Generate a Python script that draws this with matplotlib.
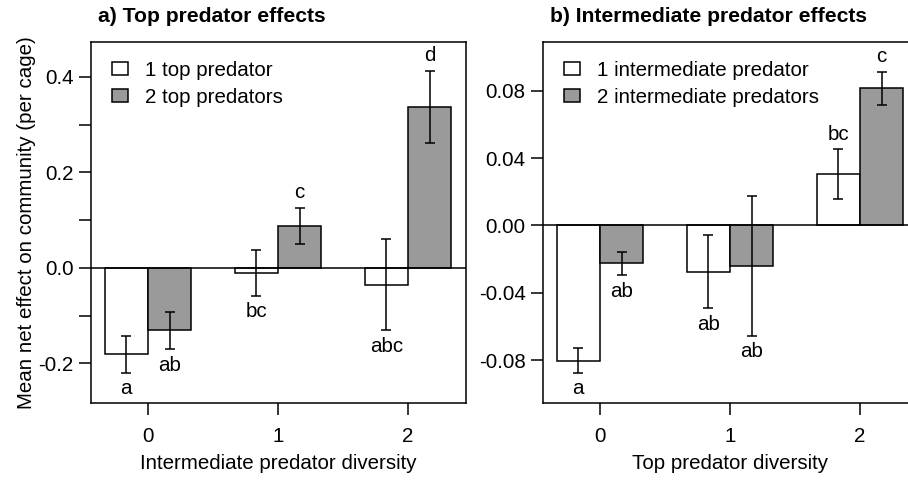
import numpy as np
import matplotlib
matplotlib.use("Agg")
import matplotlib.pyplot as plt

plt.rcParams['font.family'] = ['Liberation Sans', 'DejaVu Sans']

groups = [0, 1, 2]

# a) top predator effects
a_one = [-0.181, -0.011, -0.036]
a_one_lo = [-0.220, -0.058, -0.131]
a_one_hi = [-0.143, 0.038, 0.061]
a_two = [-0.131, 0.088, 0.336]
a_two_lo = [-0.170, 0.051, 0.261]
a_two_hi = [-0.092, 0.125, 0.412]
a_one_let = ["a", "bc", "abc"]
a_two_let = ["ab", "c", "d"]

# b) intermediate predator effects
b_one = [-0.0803, -0.0275, 0.0308]
b_one_lo = [-0.0874, -0.0491, 0.0155]
b_one_hi = [-0.0726, -0.0057, 0.0452]
b_two = [-0.0224, -0.0240, 0.0814]
b_two_lo = [-0.0295, -0.0656, 0.0714]
b_two_hi = [-0.0155, 0.0175, 0.0914]
b_one_let = ["a", "ab", "bc"]
b_two_let = ["ab", "ab", "c"]

a_yticks = [-0.2, -0.1, 0.0, 0.1, 0.2, 0.3, 0.4]
a_ylabels = ["-0.2", "", "0.0", "", "0.2", "", "0.4"]
b_yticks = [-0.08, -0.04, 0.0, 0.04, 0.08]
b_ylabels = ["-0.08", "-0.04", "0.00", "0.04", "0.08"]

W, H = 908, 482
fig = plt.figure(figsize=(W / 100, H / 100), dpi=100)

fs = 14.8
lw = 1.1
gray = "#9a9a9a"
bw = 1 / 3


def panel(left_px, one, one_lo, one_hi, two, two_lo, two_hi, let1, let2,
          yt, yl, ylim, xlabel, title, labels):
    ax = fig.add_axes([left_px / W, (H - 403) / H, 375 / W, 361 / H])
    x = np.array(groups, dtype=float)
    ax.bar(x - bw, one, width=bw, align='edge', color='white', edgecolor='black', linewidth=lw,
           label=labels[0], zorder=2)
    ax.bar(x, two, width=bw, align='edge', color=gray, edgecolor='black', linewidth=lw,
           label=labels[1], zorder=2)
    ax.axhline(0, color='black', linewidth=lw, zorder=3)
    for xs, m, lo, hi, lets in [(x - bw / 2, one, one_lo, one_hi, let1),
                                (x + bw / 2, two, two_lo, two_hi, let2)]:
        m = np.array(m); lo = np.array(lo); hi = np.array(hi)
        ax.errorbar(xs, m, yerr=[m - lo, hi - m], fmt='none', ecolor='black',
                    elinewidth=lw, capsize=3.6, capthick=lw, zorder=4)
        for xi, mi, l, h, t in zip(xs, m, lo, hi, lets):
            if mi < 0:
                ax.annotate(t, (xi, l), xytext=(0, -11.5), textcoords='offset points',
                            ha='center', va='center', fontsize=fs)
            else:
                ax.annotate(t, (xi, h), xytext=(0, 11), textcoords='offset points',
                            ha='center', va='center', fontsize=fs)
    ax.set_xlim(-0.438, 2.446)
    ax.set_ylim(*ylim)
    ax.set_xticks(groups)
    ax.set_xticklabels([str(g) for g in groups])
    ax.set_yticks(yt)
    ax.set_yticklabels(yl)
    ax.tick_params(axis='both', direction='out', length=8.5, width=lw, labelsize=fs)
    ax.tick_params(axis='y', pad=4)
    ax.tick_params(axis='x', pad=8.5)
    for s in ax.spines.values():
        s.set_linewidth(lw)
    ax.set_xlabel(xlabel, fontsize=fs, labelpad=6)
    leg = ax.legend(loc='upper left', bbox_to_anchor=(0.035, 0.971), frameon=False,
                    fontsize=fs, handlelength=0.75, handleheight=0.6, handletextpad=0.85,
                    labelspacing=0.38, borderaxespad=0)
    for p in leg.get_patches():
        p.set_linewidth(lw)
    fig.text((left_px + 7) / W, 1 - 17 / H, title, ha='left', va='center',
             fontsize=15.2, fontweight='bold')
    return ax


ax1 = panel(91, a_one, a_one_lo, a_one_hi, a_two, a_two_lo, a_two_hi, a_one_let, a_two_let,
            a_yticks, a_ylabels, (-0.283, 0.473), "Intermediate predator diversity",
            "a) Top predator effects", ["1 top predator", "2 top predators"])
ax1.set_ylabel("Mean net effect on community (per cage)", fontsize=fs, labelpad=2)

ax2 = panel(543, b_one, b_one_lo, b_one_hi, b_two, b_two_lo, b_two_hi, b_one_let, b_two_let,
            b_yticks, b_ylabels, (-0.1055, 0.109), "Top predator diversity",
            "b) Intermediate predator effects",
            ["1 intermediate predator", "2 intermediate predators"])

fig.savefig("out.png", dpi=100)
